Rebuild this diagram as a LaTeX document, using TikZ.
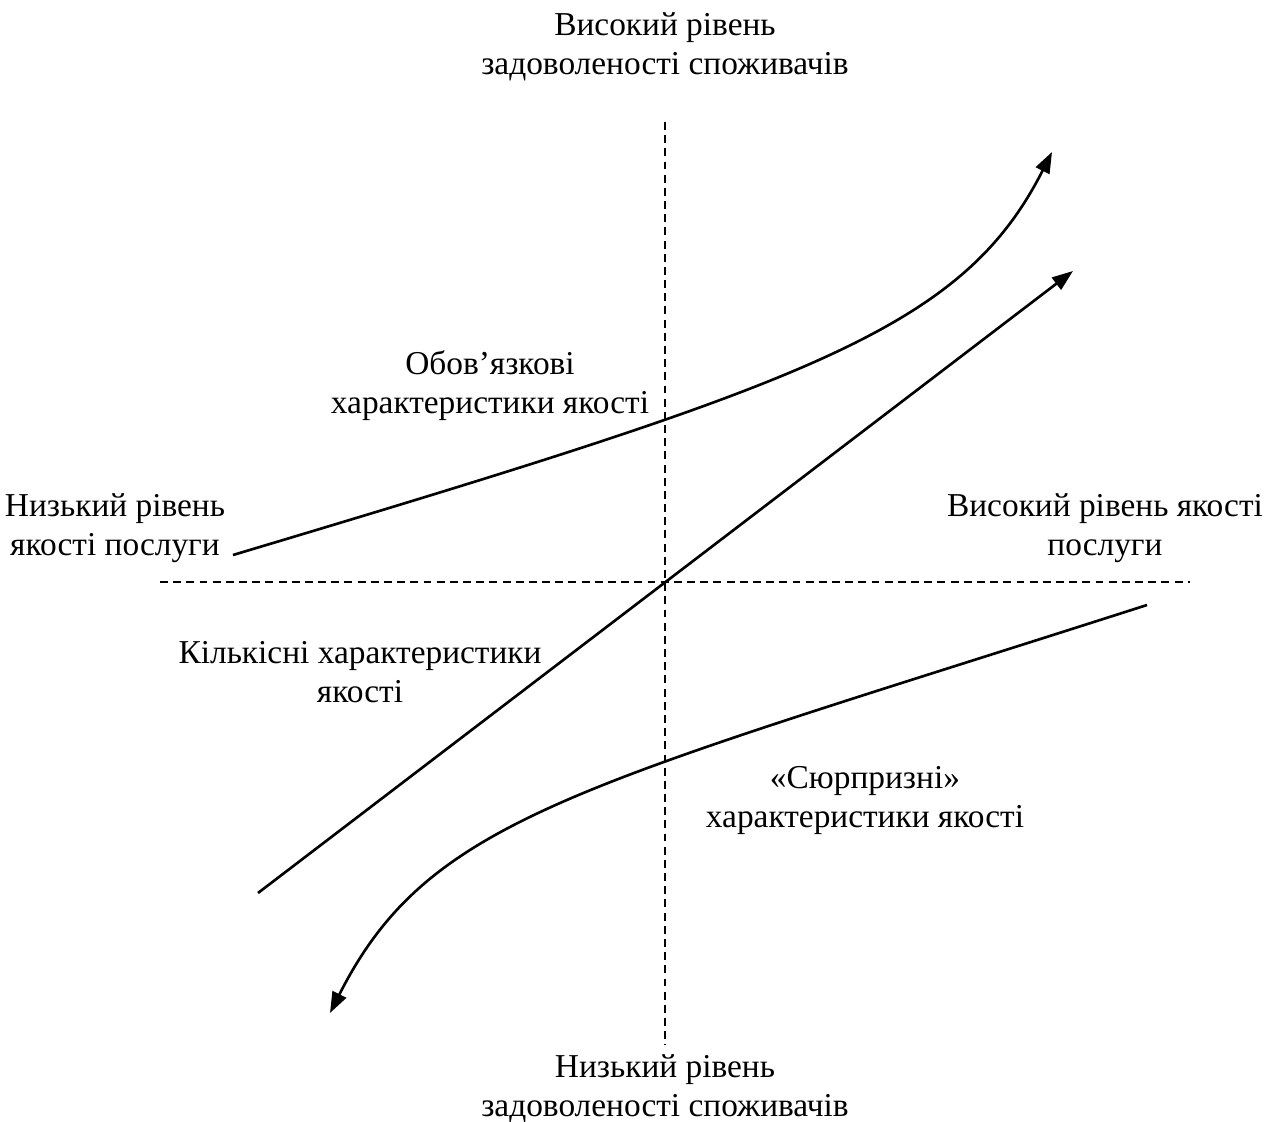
\documentclass[tikz,border=0pt]{standalone}
\usepackage{fontspec}
\setmainfont{Liberation Serif}
\usetikzlibrary{arrows.meta}
\begin{document}
\begin{tikzpicture}[x=0.02cm,y=-0.02cm,
  axis/.style={line width=0.7pt,dash pattern=on 4.5pt off 3pt},
  curve/.style={line width=1.5pt,-{Triangle[length=0.42cm,width=0.3cm]}},
  lbl/.style={align=center,font=\fontsize{19}{22.2}\selectfont,inner sep=0pt}]
\useasboundingbox (0,0) rectangle (1265,1122);
% axes
\coordinate (vtop) at (665,122);
\coordinate (vbot) at (665,1045);
\coordinate (hleft) at (160,582);
\coordinate (hright) at (1190,582);
\draw[axis] (vtop)--(vbot);
\draw[axis] (hleft)--(hright);
% axis labels
\node[lbl] (high) at (665,47) {Високий рівень\\задоволеності споживачів};
\node[lbl] (low) at (665,1089) {Низький рівень\\задоволеності споживачів};
\node[lbl] (lowq) at (115,528) {Низький рівень\\якості послуги};
\node[lbl] (highq) at (1105,528) {Високий рівень якості\\послуги};
% curves
\coordinate (obA) at (233,555);
\coordinate (obB) at (1052,152);
\draw[curve] (obA) .. controls (808,383) and (962,330) .. (obB);
\coordinate (kA) at (258,893);
\coordinate (kB) at (1073,271);
\draw[curve] (kA)--(kB);
\coordinate (sA) at (1147,605);
\coordinate (sB) at (330,1013);
\draw[curve] (sA) .. controls (576,788) and (429,817) .. (sB);
% kinds of quality
\node[lbl] (must) at (490,386) {Обов’язкові\\характеристики якості};
\node[lbl] (quant) at (360,672) {Кількісні характеристики\\якості};
\node[lbl] (surp) at (865,800) {«Сюрпризні»\\характеристики якості};
\end{tikzpicture}
\end{document}
